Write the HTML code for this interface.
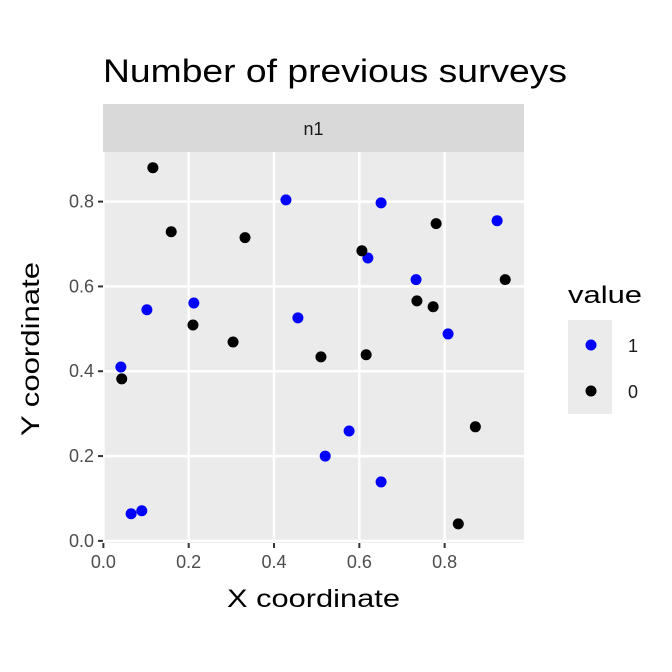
<!DOCTYPE html>
<html><head><meta charset="utf-8"><style>
html,body{margin:0;padding:0;background:#fff;}
svg{display:block;font-family:"Liberation Sans","DejaVu Sans",sans-serif;}
</style></head><body>
<svg id="chart" width="672" height="672" viewBox="0 0 672 672">
<rect width="672" height="672" fill="#fff"/>
<text x="103" y="82" font-size="32" textLength="464" lengthAdjust="spacingAndGlyphs" fill="#000">Number of previous surveys</text>
<rect x="103" y="104" width="421" height="48" fill="#d9d9d9"/>
<text x="313.5" y="135" font-size="18" fill="#1a1a1a" text-anchor="middle">n1</text>
<rect x="103" y="152" width="421" height="391" fill="#ebebeb"/>
<g id="grid"></g><g id="axes"></g><g id="points"></g>
<text x="313.5" y="607" font-size="25" textLength="173" lengthAdjust="spacingAndGlyphs" fill="#000" text-anchor="middle">X coordinate</text>
<text transform="translate(39,349) rotate(-90)" font-size="25" textLength="174" lengthAdjust="spacingAndGlyphs" fill="#000" text-anchor="middle">Y coordinate</text>
<g>
<text x="568" y="303" font-size="24" textLength="74" lengthAdjust="spacingAndGlyphs" fill="#000">value</text>
<rect x="568" y="320" width="44" height="94" fill="#ebebeb"/>
<circle cx="591" cy="345" r="5.5" fill="#0000ff"/>
<circle cx="591" cy="391" r="5.5" fill="#000"/>
<text x="628" y="352" font-size="18" fill="#1a1a1a">1</text>
<text x="628" y="398" font-size="18" fill="#1a1a1a">0</text>
</g>
</svg>
<script>
const xTicks=[0,0.2,0.4,0.6,0.8];
const yTicks=[0,0.2,0.4,0.6,0.8];
const tickLabels=["0.0","0.2","0.4","0.6","0.8"];
const blueX=[0.041,0.102,0.065,0.090,0.212,0.428,0.456,0.651,0.620,0.733,0.808,0.923,0.576,0.520,0.651];
const blueY=[0.410,0.545,0.064,0.071,0.561,0.804,0.526,0.797,0.667,0.616,0.488,0.755,0.259,0.200,0.139];
const blackX=[0.116,0.159,0.332,0.043,0.210,0.304,0.510,0.606,0.616,0.735,0.773,0.780,0.942,0.872,0.832];
const blackY=[0.880,0.729,0.715,0.382,0.509,0.469,0.434,0.684,0.439,0.566,0.552,0.748,0.616,0.269,0.040];
const NS="http://www.w3.org/2000/svg";
const X0=103,X1=524,Y0=543,Y1=152,xmin=-0.0009,xmax=0.986,ymin=-0.005,ymax=0.917;
function sx(v){return X0+(v-xmin)/(xmax-xmin)*(X1-X0);}
function sy(v){return Y0-(v-ymin)/(ymax-ymin)*(Y0-Y1);}
function mk(tag,attrs,parent){const e=document.createElementNS(NS,tag);for(const k in attrs)e.setAttribute(k,attrs[k]);parent.appendChild(e);return e;}
const grid=document.getElementById('grid'),axes=document.getElementById('axes'),pts=document.getElementById('points');
xTicks.forEach((t,i)=>{
  const g=mk('line',{x1:sx(t),x2:sx(t),y1:Y1,y2:Y0,stroke:'#fff','stroke-width':2.5},grid);
  
  
  const tk=mk('line',{x1:sx(t),x2:sx(t),y1:Y0,y2:Y0+5,stroke:'#333','stroke-width':2},axes);
  
  
  const tx=mk('text',{x:sx(t),y:Y0+25,'font-size':18,fill:'#4d4d4d','text-anchor':'middle'},axes);
  tx.textContent=tickLabels[i];
  
  
});
yTicks.forEach((t,i)=>{
  const g=mk('line',{x1:X0,x2:X1,y1:sy(t),y2:sy(t),stroke:'#fff','stroke-width':2.5},grid);
  
  
  const tk=mk('line',{x1:X0-5,x2:X0,y1:sy(t),y2:sy(t),stroke:'#333','stroke-width':2},axes);
  
  
  const tx=mk('text',{x:X0-9,y:sy(t)+6,'font-size':18,fill:'#4d4d4d','text-anchor':'end'},axes);
  tx.textContent=tickLabels[i];
  
  
});
blueX.forEach((v,i)=>{
  const c=mk('circle',{cx:sx(v),cy:sy(blueY[i]),r:5.5,fill:'#0000ff'},pts);
  
  
});
blackX.forEach((v,i)=>{
  const c=mk('circle',{cx:sx(v),cy:sy(blackY[i]),r:5.5,fill:'#000'},pts);
  
  
});
</script>
</body></html>
